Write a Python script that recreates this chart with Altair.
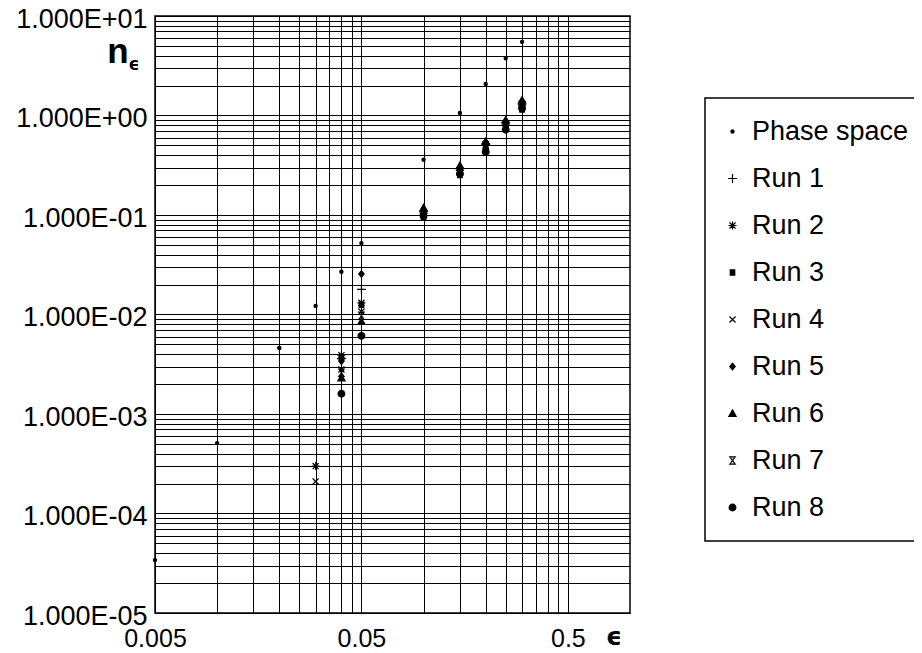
import altair as alt
import pandas as pd

# ---- data ----
series = ["Phase space", "Run 1", "Run 2", "Run 3", "Run 4", "Run 5", "Run 6", "Run 7", "Run 8"]

phase_x = [0.005, 0.01, 0.02, 0.03, 0.04, 0.05, 0.1, 0.15, 0.2, 0.25, 0.3]
phase_y = [3.4e-5, 5.1e-4, 4.6e-3, 0.0122, 0.0269, 0.052, 0.36, 1.06, 2.07, 3.76, 5.5]

run_x = [0.03, 0.04, 0.05, 0.1, 0.15, 0.2, 0.25, 0.3]
run1 = [None, 3.6e-3, 0.0179, 0.108, 0.29, 0.52, 0.85, 1.30]
run2 = [3.0e-4, 3.9e-3, 0.0131, 0.104, 0.28, 0.50, 0.82, 1.25]
run3 = [None, 3.7e-3, 0.0125, 0.095, 0.252, 0.47, 0.74, 1.15]
run4 = [2.1e-4, 2.8e-3, 0.0107, 0.100, 0.27, 0.49, 0.78, 1.22]
run5 = [None, 3.4e-3, 0.0255, 0.112, 0.30, 0.54, 0.88, 1.38]
run6 = [None, 2.3e-3, 0.0085, 0.118, 0.313, 0.546, 0.90, 1.43]
run7 = [None, 2.6e-3, 0.0097, 0.102, 0.275, 0.50, 0.80, 1.28]
run8 = [None, 1.6e-3, 0.0061, 0.098, 0.26, 0.43, 0.72, 1.18]
runs = [run1, run2, run3, run4, run5, run6, run7, run8]

# axis ticks / labels
x_grid = [0.005, 0.01, 0.015, 0.02, 0.025, 0.03, 0.035, 0.04, 0.045, 0.05,
          0.1, 0.15, 0.2, 0.25, 0.3, 0.35, 0.4, 0.45, 0.5]
x_label_values = [0.005, 0.05, 0.5]
x_label_texts = ["0.005", "0.05", "0.5"]

y_decades = [-5, -4, -3, -2, -1, 0]
y_mantissas = [1, 2, 3, 4, 5, 6, 7, 8, 9]
y_grid = [m * 10.0 ** e for e in y_decades for m in y_mantissas] + [10.0]
y_label_exps = [-5, -4, -3, -2, -1, 0, 1]
y_label_texts = ["1.000E-05", "1.000E-04", "1.000E-03", "1.000E-02",
                 "1.000E-01", "1.000E+00", "1.000E+01"]

# ---- styling ----
shape_paths = [
    "M-0.2,0A0.2,0.2 0 1,0 0.2,0A0.2,0.2 0 1,0 -0.2,0Z",                 # phase space dot
    "M-0.55,0H0.55M0,-0.55V0.55",                                        # +
    "M-0.5,0H0.5M0,-0.5V0.5M-0.38,-0.38L0.38,0.38M-0.38,0.38L0.38,-0.38",  # asterisk
    "M-0.28,-0.33H0.28V0.33H-0.28Z",                                     # square
    "M-0.38,-0.38L0.38,0.38M-0.38,0.38L0.38,-0.38",                      # x
    "M0,-0.42L0.34,0L0,0.42L-0.34,0Z",                                   # diamond
    "M0,-0.45L0.45,0.35H-0.45Z",                                         # triangle
    "M-0.33,-0.45H0.33L-0.33,0.45H0.33Z",                                # hourglass
    "M-0.42,0A0.42,0.42 0 1,0 0.42,0A0.42,0.42 0 1,0 -0.42,0Z",          # circle
]
fills = ["black", "transparent", "transparent", "black", "transparent",
         "black", "black", "transparent", "black"]
strokes = ["black"] * len(series)

rows = [{"series": "Phase space", "eps": x, "n": y} for x, y in zip(phase_x, phase_y)]
for name, vals in zip(series[1:], runs):
    for x, y in zip(run_x, vals):
        if y is not None:
            rows.append({"series": name, "eps": x, "n": y})
df = pd.DataFrame(rows)

y_expr = "".join(
    f"abs(log(datum.value)/LN10 - ({e})) < 0.001 ? '{t}' : "
    for e, t in zip(y_label_exps, y_label_texts)
) + "''"
x_expr = "".join(
    f"abs(datum.value - {v}) < 1e-9 ? '{t}' : "
    for v, t in zip(x_label_values, x_label_texts)
) + "''"

FONT = "Liberation Sans"

legend = alt.Legend(
    title=None, orient="none", legendX=550, legendY=82,
    strokeColor="black", fillColor="white", padding=20,
    labelFont=FONT, labelFontSize=27, labelColor="black",
    rowPadding=19, symbolSize=256, labelOffset=6, symbolOffset=-6,
    symbolStrokeColor="black", symbolStrokeWidth=1.2, labelLimit=400,
)

points = alt.Chart(df).mark_point(
    filled=False, opacity=1, strokeWidth=1.2, size=256
).encode(
    x=alt.X("eps:Q",
            scale=alt.Scale(type="log", domain=[0.005, 1.0], nice=False),
            axis=alt.Axis(values=x_grid, labelExpr=x_expr, title=None,
                          grid=True, ticks=False, tickSize=0, domain=False,
                          labelPadding=13, labelFlush=False, labelOverlap=False,
                          labelFont=FONT, labelFontSize=25, labelColor="black")),
    y=alt.Y("n:Q",
            scale=alt.Scale(type="log", domain=[1e-5, 10], nice=False),
            axis=alt.Axis(values=y_grid, labelExpr=y_expr, title=None,
                          grid=True, ticks=False, tickSize=0, domain=False,
                          labelPadding=8, labelOffset=3, labelFlush=False, labelOverlap=False,
                          labelFont=FONT, labelFontSize=27, labelColor="black")),
    shape=alt.Shape("series:N", scale=alt.Scale(domain=series, range=shape_paths), legend=legend),
    fill=alt.Fill("series:N", scale=alt.Scale(domain=series, range=fills), legend=legend),
    stroke=alt.Stroke("series:N", scale=alt.Scale(domain=series, range=strokes), legend=legend),
)

n_title = alt.Chart(pd.DataFrame({"t": ["n"]})).mark_text(
    font=FONT, fontSize=35, fontWeight="bold", color="black", align="center", baseline="alphabetic"
).encode(text="t:N", x=alt.value(-37), y=alt.value(47))

n_sub = alt.Chart(pd.DataFrame({"t": ["ϵ"]})).mark_text(
    font="DejaVu Sans", fontSize=17, fontWeight="bold", color="black", align="center", baseline="alphabetic"
).encode(text="t:N", x=alt.value(-21), y=alt.value(54))

x_title = alt.Chart(pd.DataFrame({"t": ["ϵ"]})).mark_text(
    font="DejaVu Sans", fontSize=25, fontWeight="bold", color="black", align="center", baseline="alphabetic"
).encode(text="t:N", x=alt.value(459), y=alt.value(629))

chart = alt.layer(points, n_title, n_sub, x_title).properties(
    width=475, height=597,
    autosize=alt.AutoSizeParams(type="none"),
    padding={"left": 147, "top": 8, "right": 284, "bottom": 40},
).configure_view(
    stroke="black", strokeWidth=1.5
).configure_axis(
    gridColor="black", gridOpacity=1, gridWidth=1
).configure_legend(
    strokeWidth=1.5
)

chart.save("out.html", embed_options={"renderer": "svg", "actions": False})
